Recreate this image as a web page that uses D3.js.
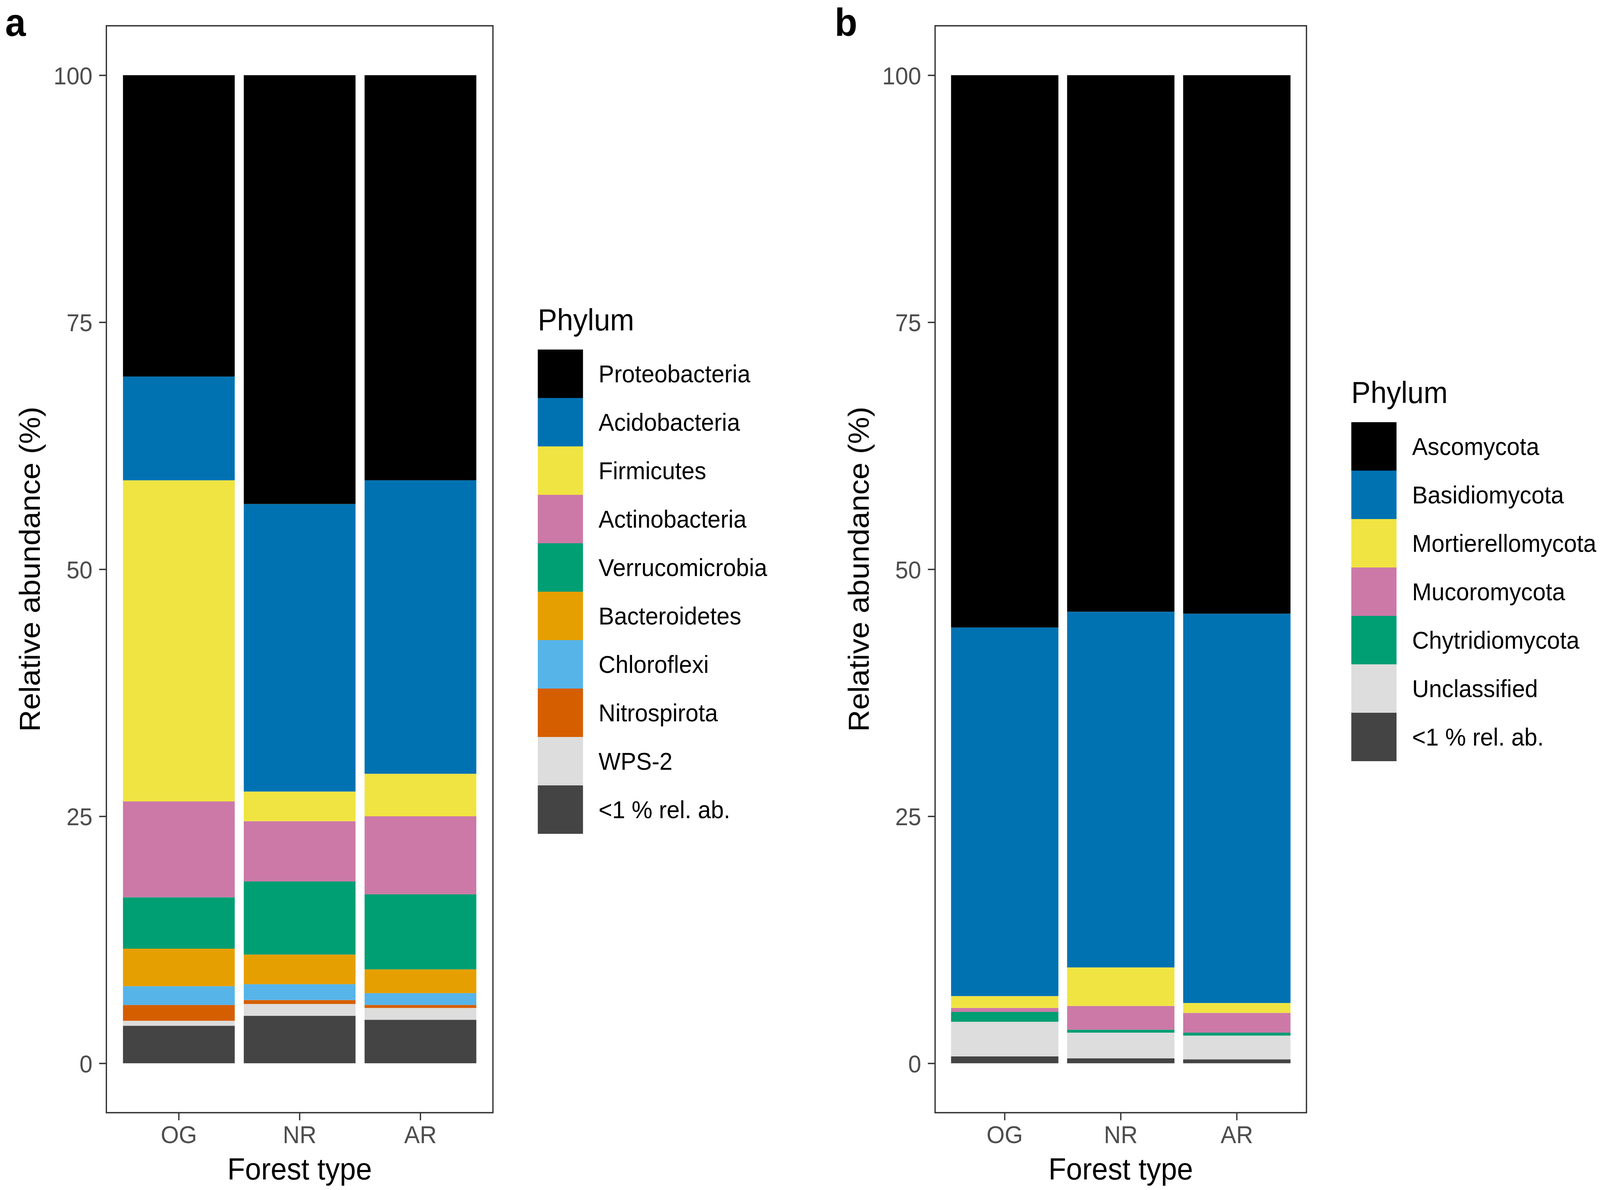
<!DOCTYPE html>
<html lang="en">
<head>
    <meta charset="UTF-8">
    <title>Relative abundance by forest type</title>
    <script src="https://d3js.org/d3.v7.min.js"></script>
    <style>
        html, body {
            margin: 0;
            padding: 0;
            overflow: hidden;
            background: #fff;
        }
        svg {
            display: block;
        }
        svg text {
            font-family: "Liberation Sans", Arial, sans-serif;
        }
    </style>
</head>
<body>
    <div id="chart"></div>
    <script>
        // categories
        const forestTypes = ["OG", "NR", "AR"];
        const yTicks = [0, 25, 50, 75, 100];

        // bacteria (panel a), values in legend order, top of the stack first
        const bacteriaPhyla = ["Proteobacteria", "Acidobacteria", "Firmicutes", "Actinobacteria",
            "Verrucomicrobia", "Bacteroidetes", "Chloroflexi", "Nitrospirota", "WPS-2", "<1 % rel. ab."];
        const bacteriaColors = ["#000000", "#0072B2", "#F0E442", "#CC79A7", "#009E73",
            "#E69F00", "#56B4E9", "#D55E00", "#DDDDDD", "#444444"];
        const bacteriaOG = [30.5, 10.5, 32.5, 9.7, 5.2, 3.8, 1.9, 1.6, 0.5, 3.8];
        const bacteriaNR = [43.4, 29.1, 3.0, 6.1, 7.4, 3.0, 1.6, 0.4, 1.2, 4.8];
        const bacteriaAR = [41.0, 29.7, 4.3, 7.9, 7.6, 2.4, 1.2, 0.3, 1.2, 4.4];

        // fungi (panel b)
        const fungiPhyla = ["Ascomycota", "Basidiomycota", "Mortierellomycota", "Mucoromycota",
            "Chytridiomycota", "Unclassified", "<1 % rel. ab."];
        const fungiColors = ["#000000", "#0072B2", "#F0E442", "#CC79A7", "#009E73", "#DDDDDD", "#444444"];
        const fungiOG = [55.9, 37.3, 1.2, 0.4, 1.0, 3.5, 0.7];
        const fungiNR = [54.3, 36.0, 3.9, 2.4, 0.3, 2.6, 0.5];
        const fungiAR = [54.5, 39.4, 1.0, 2.0, 0.3, 2.4, 0.4];

        // drawing is laid out on the reference canvas and stretched to the window
        const W = 4317, H = 3047;
        const svg = d3.select("#chart").append("svg")
            .attr("width", window.innerWidth)
            .attr("height", window.innerHeight)
            .attr("viewBox", `0 0 ${W} ${H}`)
            .attr("preserveAspectRatio", "none");

        function buildRows(phyla, seriesList) {
            return forestTypes.map((t, i) => {
                const row = { type: t };
                phyla.forEach((p, j) => { row[p] = seriesList[i][j]; });
                return row;
            });
        }

        function drawPanel(opt) {
            const g = svg.append("g");
            const { left, right, top, bottom } = opt;

            const x = d3.scaleBand()
                .domain(forestTypes)
                .range([left, right])
                .paddingInner(0.075)
                .paddingOuter(0.1375);

            // ggplot-like 5% expansion around 0..100
            const y = d3.scaleLinear()
                .domain([-5, 105])
                .range([bottom, top]);

            const color = d3.scaleOrdinal()
                .domain(opt.phyla)
                .range(opt.colors);

            const rows = buildRows(opt.phyla, opt.series);
            // bottom of the stack is the last legend entry
            const stack = d3.stack().keys(opt.phyla.slice().reverse());
            const layers = stack(rows);

            g.selectAll("g.layer")
                .data(layers)
                .enter()
                .append("g")
                .attr("class", "layer")
                .attr("fill", d => color(d.key))
                .selectAll("rect")
                .data(d => d)
                .enter()
                .append("rect")
                .attr("x", d => x(d.data.type))
                .attr("width", x.bandwidth())
                .attr("y", d => y(d[1]))
                .attr("height", d => y(d[0]) - y(d[1]));

            // panel border
            g.append("rect")
                .attr("x", left)
                .attr("y", top)
                .attr("width", right - left)
                .attr("height", bottom - top)
                .attr("fill", "none")
                .attr("stroke", "#333333")
                .attr("stroke-width", 3.5);

            // y axis
            const yAxis = d3.axisLeft(y)
                .tickValues(yTicks)
                .tickSize(19.5)
                .tickPadding(18);
            const ya = g.append("g")
                .attr("transform", `translate(${left},0)`)
                .call(yAxis);
            ya.select(".domain").remove();
            ya.selectAll(".tick line").attr("stroke", "#333333").attr("stroke-width", 3.5);
            ya.selectAll(".tick text")
                .attr("fill", "#4D4D4D")
                .attr("font-size", 63)
                .attr("dy", "0.36em")
                .style("font-family", "'Liberation Sans', Arial, sans-serif");

            // x axis
            const xAxis = d3.axisBottom(x)
                .tickSize(19.5)
                .tickPadding(14);
            const xa = g.append("g")
                .attr("transform", `translate(0,${bottom})`)
                .call(xAxis);
            xa.select(".domain").remove();
            xa.selectAll(".tick line").attr("stroke", "#333333").attr("stroke-width", 3.5);
            xa.selectAll(".tick text")
                .attr("fill", "#4D4D4D")
                .attr("font-size", 63)
                .attr("dy", "0.71em")
                .style("font-family", "'Liberation Sans', Arial, sans-serif");

            // axis titles
            g.append("text")
                .attr("x", (left + right) / 2)
                .attr("y", 3020)
                .attr("text-anchor", "middle")
                .attr("font-size", 78)
                .attr("fill", "#000")
                .text("Forest type");

            g.append("text")
                .attr("transform", `translate(${left - 179},${(top + bottom) / 2}) rotate(-90)`)
                .attr("text-anchor", "middle")
                .attr("font-size", 78)
                .attr("fill", "#000")
                .text("Relative abundance (%)");

            // tag
            g.append("text")
                .attr("x", opt.tagX)
                .attr("y", 92)
                .attr("font-size", 100)
                .attr("font-weight", "bold")
                .attr("fill", "#000")
                .text(opt.tag);

            // legend
            const lg = g.append("g");
            lg.append("text")
                .attr("x", opt.legendX)
                .attr("y", opt.legendTop - 49)
                .attr("font-size", 78)
                .attr("fill", "#000")
                .text("Phylum");

            const keySize = 124;
            const item = lg.selectAll("g.item")
                .data(opt.phyla)
                .enter()
                .append("g")
                .attr("class", "item")
                .attr("transform", (d, i) => `translate(${opt.legendX},${opt.legendTop + i * keySize})`);
            item.append("rect")
                .attr("width", 122)
                .attr("height", keySize)
                .attr("fill", d => color(d));
            item.append("text")
                .attr("x", 164)
                .attr("y", keySize / 2)
                .attr("dy", "0.35em")
                .attr("font-size", 63)
                .attr("fill", "#000")
                .text(d => d);
        }

        drawPanel({
            tag: "a", tagX: 14,
            left: 287, right: 1330, top: 66, bottom: 2849,
            phyla: bacteriaPhyla, colors: bacteriaColors,
            series: [bacteriaOG, bacteriaNR, bacteriaAR],
            legendX: 1451, legendTop: 895
        });

        drawPanel({
            tag: "b", tagX: 2252,
            left: 2523, right: 3525, top: 66, bottom: 2849,
            phyla: fungiPhyla, colors: fungiColors,
            series: [fungiOG, fungiNR, fungiAR],
            legendX: 3646, legendTop: 1081
        });
    </script>
</body>
</html>
